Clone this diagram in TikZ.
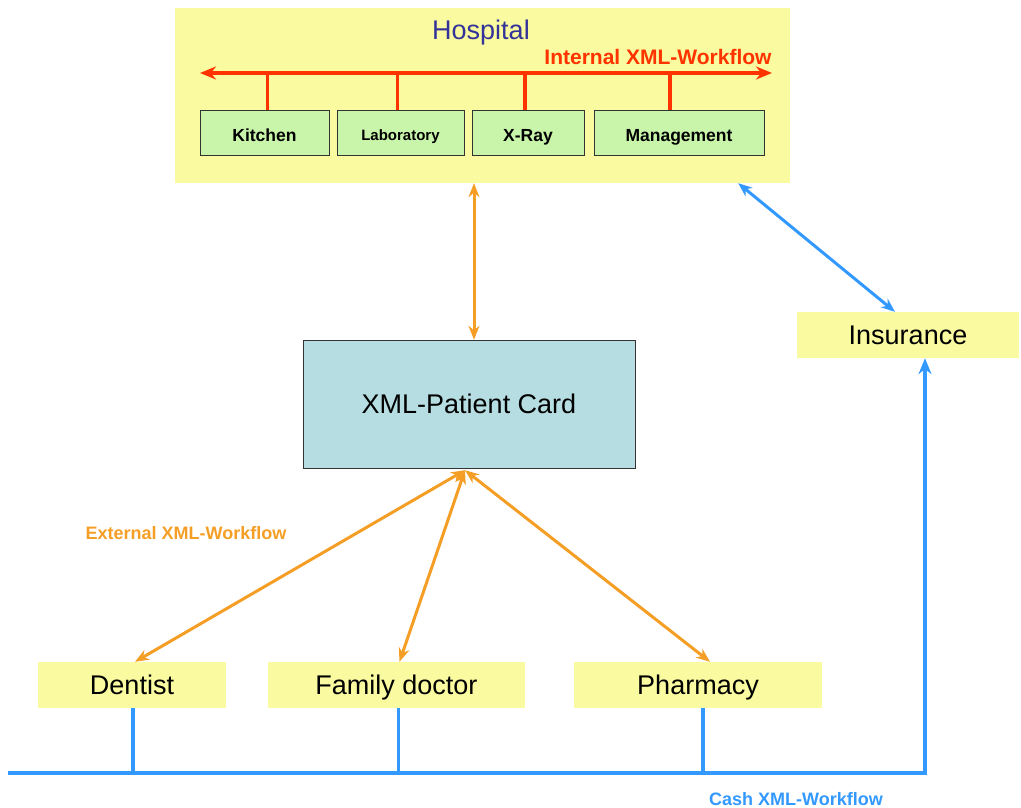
\documentclass[tikz,border=0pt]{standalone}
\usepackage{fontspec}
\setmainfont{Liberation Sans}
\usepackage{xcolor}
\usetikzlibrary{arrows.meta,positioning}
\definecolor{paleyellow}{RGB}{250,250,160}
\definecolor{palegreen}{RGB}{200,245,170}
\definecolor{cardblue}{RGB}{182,222,226}
\definecolor{wfred}{RGB}{255,51,0}
\definecolor{wforange}{RGB}{245,158,38}
\definecolor{wfblue}{RGB}{51,153,255}
\definecolor{hospblue}{RGB}{51,51,153}

\begin{document}
\begin{tikzpicture}[x=1pt, y=-1pt, inner sep=0pt,
  yellowbox/.style={fill=paleyellow, minimum height=46pt, text height=22pt, text depth=2.6pt, font=\fontsize{27}{31}\selectfont},
  unit/.style={draw=black!80, fill=palegreen, minimum height=45pt, text height=19pt, text depth=0.5pt, font=\bfseries\fontsize{17.5}{20}\selectfont},
  redline/.style={wfred, line width=3.5pt},
  orarr/.style={{Stealth[length=14pt,width=11pt]}-{Stealth[length=14pt,width=11pt]}, wforange, line width=3pt},
  bluearr/.style={{Stealth[length=14pt,width=11pt]}-{Stealth[length=14pt,width=11pt]}, wfblue, line width=3pt},
  blueline/.style={wfblue, line width=3.5pt},
  wflabel/.style={font=\bfseries\fontsize{18}{21}\selectfont}]
\useasboundingbox (0,0) rectangle (1021,808);
\node[fill=paleyellow, minimum width=615pt, minimum height=175pt] (hosp) at (482.5,95.5) {};
\node[text=hospblue, font=\fontsize{27}{31}\selectfont] (hosptitle) at (481,33) {Hospital};
\node[wflabel, text=wfred, font=\bfseries\fontsize{21}{24}\selectfont] (intlabel) at (658,57) {Internal XML-Workflow};
\node[unit, minimum width=129pt] (kitchen) at (264.5,132.5) {Kitchen};
\node[unit, minimum width=127pt, text height=16pt, font=\bfseries\fontsize{15}{18}\selectfont] (lab) at (400.5,132.5) {Laboratory};
\node[unit, minimum width=112pt] (xray) at (528,132.5) {X-Ray};
\node[unit, minimum width=170pt] (mgmt) at (679,132.5) {Management};
\coordinate (busl) at (200,73);
\coordinate (busr) at (772,73);
\draw[redline, {Stealth[length=16pt,width=13pt]}-{Stealth[length=16pt,width=13pt]}] (busl) -- (busr);
\foreach \u/\dx in {kitchen/3,lab/-3,xray/-3,mgmt/-9}
  \draw[redline] ([xshift=\dx pt]\u.north) -- ([xshift=\dx pt]\u.north |- busl);

\node[draw=black!80, fill=cardblue, minimum width=332pt, minimum height=128pt, font=\fontsize{27}{31}\selectfont] (card) at (469,404) {XML-Patient Card};
\node[yellowbox, minimum width=222pt] (ins) at (908,335) {Insurance};
\node[yellowbox, minimum width=188pt] (dentist) at (132,685) {Dentist};
\node[yellowbox, minimum width=257pt] (family) at (396.5,685) {Family doctor};
\node[yellowbox, minimum width=248pt] (pharm) at (698,685) {Pharmacy};

\draw[orarr] ([xshift=5pt]hosp.south -| card.north) -- ([xshift=5pt]card.north);
\coordinate (hub) at ([xshift=-4pt,yshift=-2pt]card.south);
\draw[orarr] (hub) -- ([xshift=3pt]dentist.north);
\draw[orarr] (hub) -- ([xshift=3pt]family.north);
\draw[orarr] (hub) -- ([xshift=12pt]pharm.north);
\node[wflabel, text=wforange] (extlabel) at (186,533) {External XML-Workflow};

\draw[bluearr] ([xshift=-52pt]hosp.south east) -- ([xshift=-13pt]ins.north);
\coordinate (cashl) at (8,773);
\coordinate (cashr) at (925,773);
\draw[blueline, -{Stealth[length=16pt,width=13pt]}] (cashl) -- (cashr) -- (cashr |- ins.south);
\foreach \p/\dx in {dentist/1,family/2,pharm/5}
  \draw[blueline] ([xshift=\dx pt]\p.south) -- ([xshift=\dx pt]\p.south |- cashl);
\node[wflabel, text=wfblue] (cashlabel) at (796,799) {Cash XML-Workflow};
\end{tikzpicture}
\end{document}
